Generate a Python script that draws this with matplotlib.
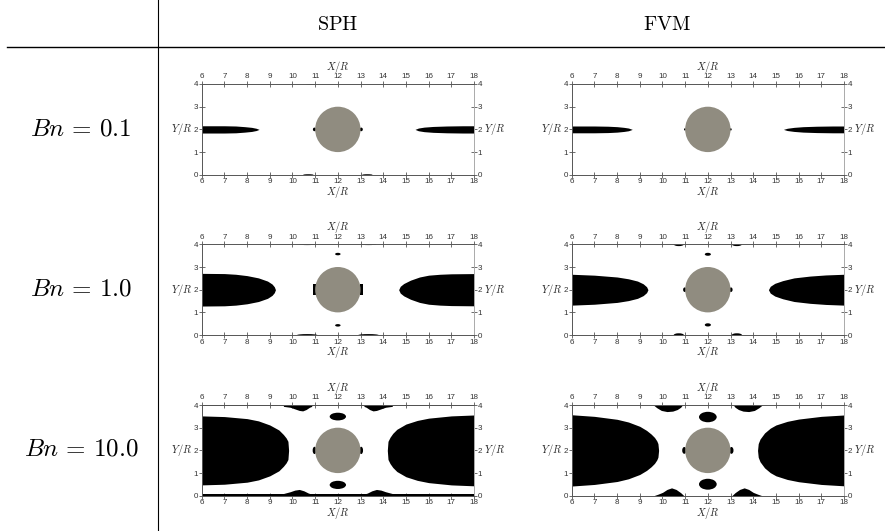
import matplotlib.pyplot as plt
from matplotlib.patches import Circle, Ellipse, Rectangle
from matplotlib.lines import Line2D

plt.rcParams['font.family'] = ['Liberation Sans', 'DejaVu Sans']
plt.rcParams['mathtext.fontset'] = 'cm'

W, H = 885, 531

methods = ['SPH', 'FVM']
bn_labels = ['0.1', '1.0', '10.0']

# channel / cylinder geometry (in units of R)
x_min, x_max = 6, 18
y_min, y_max = 0, 4
cyl_x, cyl_y, cyl_r = 12.0, 2.0, 1.0
mid_y = 2.0   # plugs are symmetric about the centre line

# ---------- Bn = 0.1 ----------
sph01_left_x = [6, 7, 7.5, 7.9, 8.2, 8.4, 8.53]
sph01_left_h = [0.16, 0.16, 0.15, 0.12, 0.09, 0.05, 0.0]
sph01_right_x = [15.4, 15.55, 15.8, 16.2, 16.8, 17.5, 18]
sph01_right_h = [0.0, 0.06, 0.10, 0.13, 0.15, 0.16, 0.16]
sph01_blobs = [(10.97, 2.0, 0.14, 0.16), (13.03, 2.0, 0.14, 0.16),
               (10.8, 4.0, 0.4, 0.05), (10.7, 0.0, 0.45, 0.05), (13.3, 0.0, 0.45, 0.05)]

fvm01_left_x = [6, 7, 7.6, 8.0, 8.3, 8.5, 8.67]
fvm01_left_h = [0.15, 0.15, 0.14, 0.12, 0.09, 0.06, 0.0]
fvm01_right_x = [15.33, 15.5, 15.8, 16.2, 16.8, 17.5, 18]
fvm01_right_h = [0.0, 0.05, 0.09, 0.12, 0.14, 0.15, 0.15]
fvm01_blobs = [(10.99, 2.0, 0.08, 0.1), (13.01, 2.0, 0.08, 0.1)]

# ---------- Bn = 1.0 ----------
sph1_left_x = [6, 7, 7.5, 8, 8.5, 8.9, 9.1, 9.2, 9.25]
sph1_left_h = [0.72, 0.71, 0.68, 0.62, 0.52, 0.38, 0.25, 0.13, 0.0]
sph1_right_x = [14.68, 14.75, 14.9, 15.2, 15.6, 16, 16.5, 17, 18]
sph1_right_h = [0.0, 0.15, 0.27, 0.42, 0.56, 0.64, 0.68, 0.70, 0.71]
sph1_blobs = [(12.0, 3.57, 0.24, 0.11), (12.0, 0.43, 0.24, 0.11),
              (10.65, 4.0, 0.7, 0.07), (13.35, 4.0, 0.7, 0.07),
              (10.65, 0.0, 0.9, 0.09), (13.35, 0.0, 0.9, 0.09)]
sph1_bars = [(10.9, 1.77, 0.13, 0.46), (12.97, 1.77, 0.13, 0.46)]

fvm1_left_x = [6, 7, 8, 8.5, 8.9, 9.15, 9.3, 9.36]
fvm1_left_h = [0.68, 0.64, 0.56, 0.48, 0.38, 0.26, 0.13, 0.0]
fvm1_right_x = [14.67, 14.75, 14.95, 15.3, 15.8, 16.5, 17.2, 18]
fvm1_right_h = [0.0, 0.15, 0.28, 0.40, 0.52, 0.60, 0.65, 0.68]
fvm1_blobs = [(12.0, 3.56, 0.27, 0.13), (12.0, 0.45, 0.27, 0.14),
              (10.98, 2.0, 0.14, 0.2), (13.02, 2.0, 0.14, 0.2),
              (10.72, 4.0, 0.45, 0.16), (13.28, 4.0, 0.45, 0.16),
              (10.72, 0.0, 0.45, 0.16), (13.28, 0.0, 0.45, 0.16)]

# ---------- Bn = 10.0 ----------
sph10_left_x = [6, 7, 8, 8.5, 9, 9.4, 9.6, 9.72, 9.8, 9.83]
sph10_left_h = [1.52, 1.49, 1.40, 1.30, 1.12, 0.90, 0.70, 0.55, 0.40, 0.0]
sph10_right_x = [14.18, 14.21, 14.3, 14.42, 14.6, 15, 15.5, 16, 17, 18]
sph10_right_h = [0.0, 0.40, 0.58, 0.75, 0.93, 1.16, 1.32, 1.42, 1.52, 1.56]
sph10_wall = 0.06
sph10_top = [([9.6, 9.9, 10.1, 10.3, 10.45, 10.6, 10.75, 10.85],
              [0.06, 0.10, 0.17, 0.24, 0.26, 0.20, 0.10, 0.06]),
             ([13.15, 13.25, 13.4, 13.55, 13.7, 13.9, 14.1, 14.4],
              [0.06, 0.10, 0.20, 0.26, 0.24, 0.17, 0.10, 0.06])]
sph10_bottom = [([9.3, 9.6, 9.9, 10.1, 10.3, 10.5, 10.7, 10.9],
                 [0.06, 0.10, 0.18, 0.25, 0.28, 0.22, 0.12, 0.06]),
                ([13.1, 13.3, 13.5, 13.7, 13.9, 14.1, 14.4, 14.7],
                 [0.06, 0.12, 0.22, 0.28, 0.25, 0.18, 0.10, 0.06])]
sph10_blobs = [(12.0, 3.49, 0.72, 0.34), (12.0, 0.48, 0.72, 0.36),
               (10.97, 2.0, 0.16, 0.32), (13.03, 2.0, 0.16, 0.32)]

fvm10_left_x = [6, 7, 8, 8.5, 9, 9.3, 9.5, 9.65, 9.75, 9.8, 9.83]
fvm10_left_h = [1.57, 1.50, 1.37, 1.25, 1.06, 0.88, 0.72, 0.57, 0.42, 0.30, 0.0]
fvm10_right_x = [14.19, 14.22, 14.3, 14.5, 14.75, 15, 15.5, 16, 17, 18]
fvm10_right_h = [0.0, 0.30, 0.50, 0.77, 0.98, 1.12, 1.28, 1.38, 1.50, 1.56]
fvm10_top = [([9.6, 9.75, 9.95, 10.2, 10.45, 10.65, 10.8, 10.88],
              [0.0, 0.12, 0.24, 0.29, 0.27, 0.20, 0.10, 0.0]),
             ([13.12, 13.2, 13.35, 13.55, 13.8, 14.05, 14.25, 14.4],
              [0.0, 0.10, 0.20, 0.27, 0.29, 0.24, 0.12, 0.0])]
fvm10_bottom = [([9.6, 9.8, 10.0, 10.2, 10.4, 10.6, 10.8, 10.95],
                 [0.0, 0.07, 0.15, 0.28, 0.35, 0.28, 0.14, 0.0]),
                ([13.05, 13.2, 13.4, 13.6, 13.8, 14.0, 14.2, 14.4],
                 [0.0, 0.14, 0.28, 0.35, 0.28, 0.15, 0.07, 0.0])]
fvm10_blobs = [(12.0, 3.47, 0.78, 0.46), (12.0, 0.51, 0.78, 0.48),
               (10.96, 2.0, 0.18, 0.3), (13.04, 2.0, 0.18, 0.3)]

panels = [
    [dict(left=(sph01_left_x, sph01_left_h), right=(sph01_right_x, sph01_right_h), blobs=sph01_blobs),
     dict(left=(fvm01_left_x, fvm01_left_h), right=(fvm01_right_x, fvm01_right_h), blobs=fvm01_blobs)],
    [dict(left=(sph1_left_x, sph1_left_h), right=(sph1_right_x, sph1_right_h), blobs=sph1_blobs, bars=sph1_bars),
     dict(left=(fvm1_left_x, fvm1_left_h), right=(fvm1_right_x, fvm1_right_h), blobs=fvm1_blobs)],
    [dict(left=(sph10_left_x, sph10_left_h), right=(sph10_right_x, sph10_right_h), blobs=sph10_blobs,
          top=sph10_top, bottom=sph10_bottom, wall=sph10_wall),
     dict(left=(fvm10_left_x, fvm10_left_h), right=(fvm10_right_x, fvm10_right_h), blobs=fvm10_blobs,
          top=fvm10_top, bottom=fvm10_bottom)],
]

# pixel layout of the table
col_left = [201.7, 571.7]
row_top = [84.0, 244.3, 405.0]
ax_w, ax_h = 272.3, 90.8
col_text_x = [338, 667]
row_text_y = [128, 289, 448]


def plug(ax, xs, hs):
    ax.fill_between(xs, [mid_y - h for h in hs], [mid_y + h for h in hs],
                    color='black', lw=0, zorder=2)


def draw_panel(ax, p):
    plug(ax, *p['left'])
    plug(ax, *p['right'])
    wall = p.get('wall', 0)
    if wall:
        ax.fill_between([x_min, x_max], y_max - wall, y_max, color='black', lw=0, zorder=2)
        ax.fill_between([x_min, x_max], y_min, y_min + wall, color='black', lw=0, zorder=2)
    for xs, ds in p.get('top', []):
        ax.fill_between(xs, [y_max - d for d in ds], y_max, color='black', lw=0, zorder=2)
    for xs, ds in p.get('bottom', []):
        ax.fill_between(xs, y_min, [y_min + d for d in ds], color='black', lw=0, zorder=2)
    for xc, yc, w, h in p['blobs']:
        ax.add_patch(Ellipse((xc, yc), w, h, color='black', lw=0, zorder=2))
    for x0, y0, w, h in p.get('bars', []):
        ax.add_patch(Rectangle((x0, y0), w, h, color='black', lw=0, zorder=2))
    ax.add_patch(Circle((cyl_x, cyl_y), cyl_r, color='#908c80', lw=0, zorder=3))

    ax.set_xlim(x_min, x_max)
    ax.set_ylim(y_min, y_max)
    ax.set_xticks(range(x_min, x_max + 1))
    ax.set_yticks(range(y_min, y_max + 1))
    ax.tick_params(direction='inout', length=4, width=0.6, colors='#555', labelcolor='#333',
                   labelsize=5.8, pad=0.6, top=True, bottom=True, left=True, right=True,
                   labeltop=True, labelbottom=True, labelleft=True, labelright=True)
    for s in ax.spines.values():
        s.set_color('#555')
        s.set_linewidth(0.7)
    ax.spines['right'].set_color('#aaaaaa')

    lab = dict(xycoords='axes fraction', textcoords='offset points', fontsize=7.5, color='#222')
    ax.annotate(r'$X/R$', (0.5, 1), xytext=(0, 12.5), ha='center', va='center', **lab)
    ax.annotate(r'$X/R$', (0.5, 0), xytext=(0, -12.2), ha='center', va='center', **lab)
    ax.annotate(r'$Y/R$', (0, 0.5), xytext=(-7, 0), ha='right', va='center', **lab)
    ax.annotate(r'$Y/R$', (1, 0.5), xytext=(7.2, 0), ha='left', va='center', **lab)


fig = plt.figure(figsize=(W / 100, H / 100), dpi=100)

for i in range(len(bn_labels)):
    for j in range(len(methods)):
        ax = fig.add_axes([col_left[j] / W, 1 - (row_top[i] + ax_h) / H, ax_w / W, ax_h / H])
        draw_panel(ax, panels[i][j])

# table rules and headings
fig.add_artist(Line2D([158 / W, 158 / W], [0, 1], color='black', lw=0.8, transform=fig.transFigure))
fig.add_artist(Line2D([7 / W, 1], [1 - 47 / H] * 2, color='black', lw=1.0, transform=fig.transFigure))
for j, m in enumerate(methods):
    fig.text(col_text_x[j] / W, 1 - 25 / H, r'$\mathrm{%s}$' % m, fontsize=14.5, ha='center', va='center')
for i, b in enumerate(bn_labels):
    fig.text(81 / W, 1 - row_text_y[i] / H, r'$Bn\,=\,%s$' % b, fontsize=18, ha='center', va='center')

fig.savefig('out.png', dpi=100)
